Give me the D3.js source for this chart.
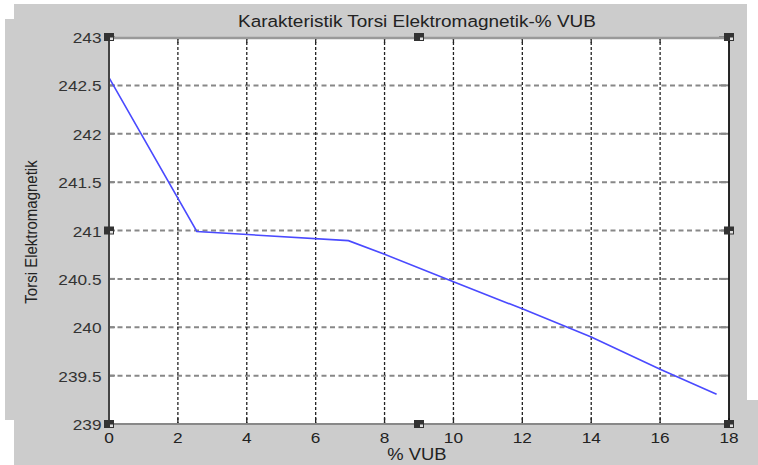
<!DOCTYPE html>
<html><head><meta charset="utf-8">
<script src="https://cdn.jsdelivr.net/npm/d3@7"></script>
<style>html,body{margin:0;padding:0;background:#fff;}svg{display:block;}</style>
</head><body>
<svg id="c" width="758" height="465"></svg>
<script>
const vub = [0, 2.55, 6.95, 8, 10, 12, 14, 16, 17.64];
const torsi = [242.58, 240.99, 240.895, 240.754, 240.47, 240.19, 239.9, 239.565, 239.307];
const xTicks = [0, 2, 4, 6, 8, 10, 12, 14, 16, 18];
const yTicks = [239, 239.5, 240, 240.5, 241, 241.5, 242, 242.5, 243];
const titleText = "Karakteristik Torsi Elektromagnetik-% VUB";
const xLabel = "% VUB";
const yLabel = "Torsi Elektromagnetik";

const svg = d3.select("#c");
const L = 109, R = 729, T = 37, B = 424;
const x = d3.scaleLinear().domain([0, 18]).range([L, R]);
const y = d3.scaleLinear().domain([239, 243]).range([B, T]);
const SX = 1.15;
const font = "'Liberation Sans', Arial, sans-serif";

// gray figure background (irregular screenshot shape)
svg.append("path")
  .attr("d", "M14,4 L747,4 L747,400 L758,400 L758,465 L14,465 L14,420 L5,420 L5,19 L14,19 Z")
  .attr("fill", "#cccccc");

// plot area
svg.append("rect").attr("x", L).attr("y", T).attr("width", R - L).attr("height", B - T).attr("fill", "#fff");

// grid
const g = svg.append("g");
g.selectAll("line.hg").data(yTicks.filter(d => d > 239 && d < 243)).join("line")
  .attr("x1", L).attr("x2", R).attr("y1", d => y(d)).attr("y2", d => y(d))
  .attr("stroke", "#888").attr("stroke-width", 2).attr("stroke-dasharray", "5,3.5");
g.selectAll("line.vg").data(xTicks.filter(d => d > 0 && d < 18)).join("line")
  .attr("x1", d => x(d)).attr("x2", d => x(d)).attr("y1", T).attr("y2", B)
  .attr("stroke", "#222").attr("stroke-width", 1.3).attr("stroke-dasharray", "3,2");

// inside ticks
const tl = 6;
g.selectAll("line.tb").data(xTicks).join("line")
  .attr("x1", d => x(d)).attr("x2", d => x(d)).attr("y1", B).attr("y2", B - tl)
  .attr("stroke", "#222").attr("stroke-width", 1.3);
g.selectAll("line.tt").data(xTicks).join("line")
  .attr("x1", d => x(d)).attr("x2", d => x(d)).attr("y1", T).attr("y2", T + tl)
  .attr("stroke", "#222").attr("stroke-width", 1.3);
g.selectAll("line.tr").data(yTicks).join("line")
  .attr("x1", R).attr("x2", R - 10).attr("y1", d => y(d)).attr("y2", d => y(d))
  .attr("stroke", "#888").attr("stroke-width", 2);
g.selectAll("line.tlf").data(yTicks).join("line")
  .attr("x1", L).attr("x2", L + 6).attr("y1", d => y(d)).attr("y2", d => y(d))
  .attr("stroke", "#888").attr("stroke-width", 2);

// data line
svg.append("path")
  .datum(vub.map((v, i) => [v, torsi[i]]))
  .attr("d", d3.line().x(d => x(d[0])).y(d => y(d[1])))
  .attr("fill", "none").attr("stroke", "#4a4aff").attr("stroke-width", 1.6);

// axes box
svg.append("line").attr("x1", L).attr("x2", R).attr("y1", T + 1).attr("y2", T + 1).attr("stroke", "#999").attr("stroke-width", 2.5);
svg.append("line").attr("x1", L).attr("x2", R).attr("y1", B).attr("y2", B).attr("stroke", "#888").attr("stroke-width", 2);
svg.append("line").attr("x1", L).attr("x2", L).attr("y1", T).attr("y2", B).attr("stroke", "#444").attr("stroke-width", 2);
svg.append("line").attr("x1", R).attr("x2", R).attr("y1", T).attr("y2", B).attr("stroke", "#111").attr("stroke-width", 1.8);

// selection handles
const hx = [0, 9, 18], hy = [239, 241, 243];
const handles = [];
hx.forEach(a => hy.forEach(b => { if (!(a === 9 && b === 241)) handles.push([a, b]); }));
svg.selectAll("rect.h").data(handles).join("rect")
  .attr("x", d => x(d[0]) - 5).attr("y", d => y(d[1]) - 4).attr("width", 10).attr("height", 8)
  .attr("fill", "#333");
svg.selectAll("rect.hi").data(handles).join("rect")
  .attr("x", d => x(d[0]) + 1).attr("y", d => y(d[1]) + 0.5).attr("width", 3).attr("height", 2.5)
  .attr("fill", "#ddd");

// tick labels
svg.selectAll("text.yt").data(yTicks).join("text")
  .attr("transform", d => `translate(101.5,${y(d) + 6}) scale(${SX},1)`)
  .attr("text-anchor", "end").attr("font-family", font).attr("font-size", 15).attr("fill", "#333")
  .text(d => d3.format("")(d));
svg.selectAll("text.xt").data(xTicks).join("text")
  .attr("transform", d => `translate(${x(d)},443) scale(${SX},1)`)
  .attr("text-anchor", "middle").attr("font-family", font).attr("font-size", 15).attr("fill", "#222")
  .text(d => d);

// title and labels
svg.append("text").attr("transform", `translate(417,27) scale(${SX},1)`)
  .attr("text-anchor", "middle").attr("font-family", font).attr("font-size", 16.5).attr("fill", "#222")
  .text(titleText);
svg.append("text").attr("transform", `translate(417,460) scale(${SX},1)`)
  .attr("text-anchor", "middle").attr("font-family", font).attr("font-size", 16).attr("fill", "#222")
  .text(xLabel);
svg.append("text").attr("transform", `translate(37,232) rotate(-90) scale(1,${SX})`)
  .attr("text-anchor", "middle").attr("font-family", font).attr("font-size", 15).attr("fill", "#222")
  .text(yLabel);
</script>
</body></html>
